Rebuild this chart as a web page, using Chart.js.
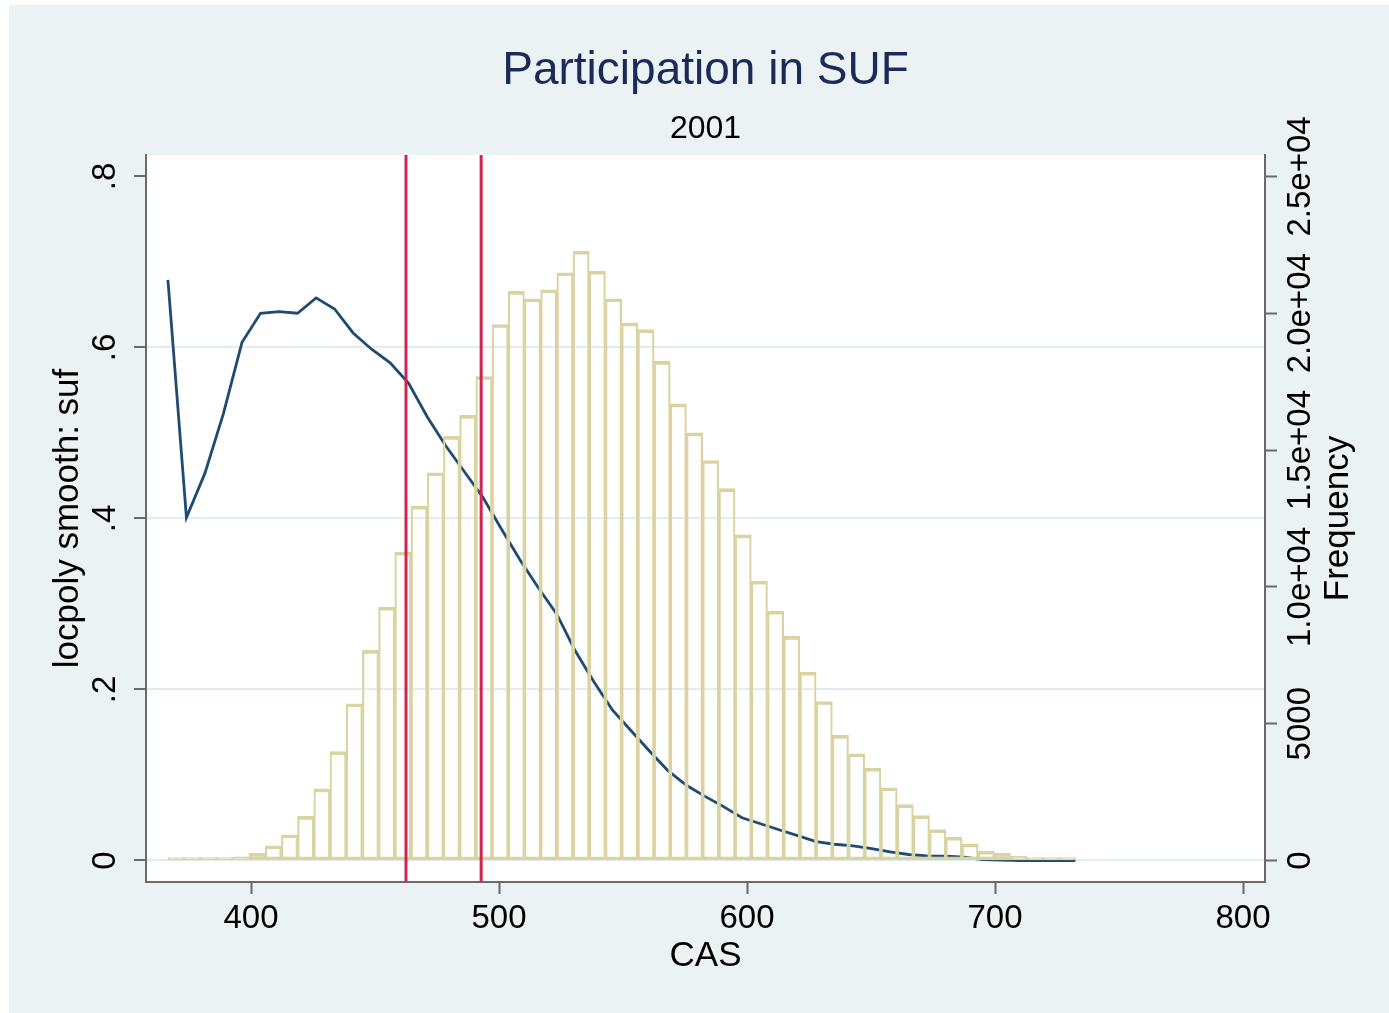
<!DOCTYPE html>
<html><head><meta charset="utf-8">
<script src="https://cdn.jsdelivr.net/npm/chart.js@4.4.0/dist/chart.umd.min.js"></script>
<style>
html,body{margin:0;padding:0;background:#fff;width:1389px;height:1013px;overflow:hidden}
#bg{position:absolute;left:9px;top:5px;width:1380px;height:1008px;background:#EAF2F3}
#wrap{position:absolute;left:0;top:0;width:1389px;height:1013px}
</style></head><body>
<div id="bg"></div>
<div id="wrap"><canvas id="c" width="1389" height="1013"></canvas></div>
<script>
// ---- data ----
const binCenters = [369.77,376.30,382.84,389.37,395.91,402.44,408.97,415.51,422.04,428.58,
  435.11,441.64,448.18,454.71,461.25,467.78,474.31,480.85,487.38,493.92,
  500.45,506.98,513.52,520.05,526.59,533.12,539.65,546.19,552.72,559.26,
  565.79,572.32,578.86,585.39,591.93,598.46,604.99,611.53,618.06,624.60,
  631.13,637.66,644.20,650.73,657.27,663.80,670.33,676.87,683.40,689.94,
  696.47,703.00,709.54,716.07,722.61,729.14];
const frequency = [20,60,60,80,130,270,540,940,1610,2620,
  3980,5730,7680,9260,11270,12950,14170,15500,16270,17690,
  19590,20800,20530,20860,21480,22270,21540,20530,19650,19400,
  18240,16690,15630,14620,13590,11900,10210,9110,8190,6880,
  5810,4570,3900,3370,2660,2040,1640,1130,850,610,
  340,270,150,60,30,20];
const gridCAS = [366.50,373.97,381.43,388.90,396.37,403.84,411.30,418.77,426.24,433.71,
  441.17,448.64,456.11,463.57,471.04,478.51,485.98,493.44,500.91,508.38,
  515.85,523.31,530.78,538.25,545.72,553.18,560.65,568.12,575.58,583.05,
  590.52,597.99,605.45,612.92,620.39,627.86,635.32,642.79,650.26,657.72,
  665.19,672.66,680.13,687.59,695.06,702.53,710.00,717.46,724.93,732.40];
const locpolySuf = [0.679,0.401,0.453,0.523,0.606,0.640,0.642,0.640,0.658,0.645,
  0.617,0.598,0.582,0.558,0.519,0.485,0.455,0.425,0.388,0.352,
  0.319,0.288,0.245,0.209,0.176,0.152,0.128,0.105,0.088,0.075,
  0.063,0.050,0.043,0.036,0.029,0.022,0.019,0.017,0.014,0.010,
  0.007,0.0055,0.005,0.004,0.001,0.0005,0,0,0,0];
const cutoffs = [462.5, 492.8];
const xTickValues = [400,500,600,700,800];
const xTickLabels = ['400','500','600','700','800'];
const yTickValues = [0,0.2,0.4,0.6,0.8];
const yTickLabels = ['0','.2','.4','.6','.8'];
const freqTickValues = [0,5000,10000,15000,20000,25000];
const freqTickLabels = ['0','5000','1.0e+04','1.5e+04','2.0e+04','2.5e+04'];

// ---- axis ranges ----
const X_MIN = 357.66, X_MAX = 808.87;
const Y_MIN = -0.02515, Y_MAX = 0.8251;
const FREQ_PER_UNIT = 31250;

const FONT = "'Liberation Sans', Arial, Helvetica, sans-serif";
Chart.defaults.font.family = FONT;
Chart.defaults.color = '#000';

const TICK_SIZE = 33, XTICK_SIZE = 33, TITLE_SIZE = 35;
const mctx = document.createElement('canvas').getContext('2d');
function textW(s, size){ mctx.font = 'normal ' + size + 'px ' + FONT; return mctx.measureText(s).width; }
const leftWidest = Math.max(...yTickLabels.map(s => textW(s, TICK_SIZE)));
const rightWidest = Math.max(...freqTickLabels.map(s => textW(s, TICK_SIZE)));
const TL = 12;
const leftPad = 146 - TL - 105.5 - leftWidest / 2;
const rightPad = 1300.5 - 1265 - TL - rightWidest / 2;

const AXIS = '#6a6a6a';
const GRID = '#E3EDEF';

const plotBg = {
  id: 'plotBg',
  beforeDraw(chart) {
    const a = chart.chartArea, ctx = chart.ctx;
    ctx.save(); ctx.fillStyle = '#fff';
    ctx.fillRect(a.left, a.top, a.right - a.left, a.bottom - a.top);
    ctx.restore();
  }
};
const freqTitle = {
  id: 'freqTitle',
  afterDraw(chart) {
    const s = chart.scales.y2, ctx = chart.ctx;
    ctx.save();
    ctx.translate(s.left + 73, (s.top + s.bottom) / 2);
    ctx.rotate(-Math.PI / 2);
    ctx.font = 'normal ' + TITLE_SIZE + 'px ' + FONT;
    ctx.fillStyle = '#000'; ctx.textAlign = 'center'; ctx.textBaseline = 'middle';
    ctx.fillText('Frequency', 0, 0);
    ctx.restore();
  }
};

const histData = binCenters.map((x, i) => ({x, y: frequency[i]}));
const lineData = gridCAS.map((x, i) => ({x, y: locpolySuf[i]}));
const cutoffSets = cutoffs.map(c => ({
  type: 'line', data: [{x: c, y: Y_MIN}, {x: c, y: Y_MAX}], yAxisID: 'y',
  borderColor: '#D32350', borderWidth: 3, pointRadius: 0, order: 0
}));

new Chart(document.getElementById('c'), {
  type: 'bar',
  data: {
    datasets: [
      ...cutoffSets,
      { type: 'bar', data: histData, yAxisID: 'y2', order: 1,
        backgroundColor: 'rgba(0,0,0,0)', borderColor: '#D9D3A1',
        borderWidth: {top: 3, bottom: 3, left: 1.5, right: 1.5}, borderSkipped: false,
        minBarLength: 3, barPercentage: 1, categoryPercentage: 1 },
      { type: 'line', data: lineData, yAxisID: 'y', order: 2,
        borderColor: '#1F4B73', borderWidth: 2.8, pointRadius: 0, tension: 0 }
    ]
  },
  options: {
    responsive: false, animation: false, devicePixelRatio: 1, events: [],
    layout: { padding: 0 },
    plugins: {
      legend: { display: false }, tooltip: { enabled: false },
      title: { display: true, text: 'Participation in SUF', color: '#1C2A5A', fullSize: false,
        font: { size: 46, weight: 'normal' }, padding: { top: 44, bottom: 0 } },
      subtitle: { display: true, text: '2001', color: '#000', fullSize: false,
        font: { size: 32, weight: 'normal' }, padding: { top: 10.4, bottom: 7 } }
    },
    scales: {
      x: {
        type: 'linear', position: 'bottom', min: X_MIN, max: X_MAX, offset: false,
        afterBuildTicks: s => { s.ticks = xTickValues.map(v => ({value: v})); },
        afterFit: s => { s.height = 131; },
        ticks: { autoSkip: false, maxRotation: 0, padding: 5, font: { size: XTICK_SIZE },
          color: '#000', callback: (v, i) => xTickLabels[i] },
        grid: { offset: false, drawOnChartArea: false, drawTicks: true, tickLength: TL, tickColor: AXIS, tickWidth: 2 },
        border: { display: true, color: AXIS, width: 2 },
        title: { display: true, text: 'CAS', font: { size: TITLE_SIZE }, color: '#000',
          padding: { top: 0, bottom: 36 } }
      },
      y: {
        type: 'linear', position: 'left', min: Y_MIN, max: Y_MAX,
        afterBuildTicks: s => { s.ticks = yTickValues.map(v => ({value: v})); },
        afterFit: s => { s.width = 146; },
        ticks: { autoSkip: false, minRotation: 90, maxRotation: 90, crossAlign: 'center',
          padding: leftPad, font: { size: TICK_SIZE }, color: '#000',
          callback: (v, i) => yTickLabels[i] },
        grid: { drawOnChartArea: true, lineWidth: 2,
          color: c => (c.tick && c.tick.value === 0.8) ? 'rgba(0,0,0,0)' : GRID,
          drawTicks: true, tickLength: TL, tickColor: AXIS, tickWidth: 2 },
        border: { display: true, color: AXIS, width: 2 },
        title: { display: true, text: 'locpoly smooth: suf', font: { size: TITLE_SIZE }, color: '#000',
          padding: { top: 47, bottom: 0 } }
      },
      y2: {
        type: 'linear', position: 'right', min: Y_MIN * FREQ_PER_UNIT, max: Y_MAX * FREQ_PER_UNIT,
        afterBuildTicks: s => { s.ticks = freqTickValues.map(v => ({value: v})); },
        afterFit: s => { s.width = 124; },
        ticks: { autoSkip: false, minRotation: 90, maxRotation: 90, crossAlign: 'center',
          padding: rightPad, font: { size: TICK_SIZE }, color: '#000',
          callback: (v, i) => freqTickLabels[i] },
        grid: { drawOnChartArea: false, drawTicks: true, tickLength: TL, tickColor: AXIS, tickWidth: 2 },
        border: { display: true, color: AXIS, width: 2 }
      }
    }
  },
  plugins: [plotBg, freqTitle]
});
</script>
</body></html>
